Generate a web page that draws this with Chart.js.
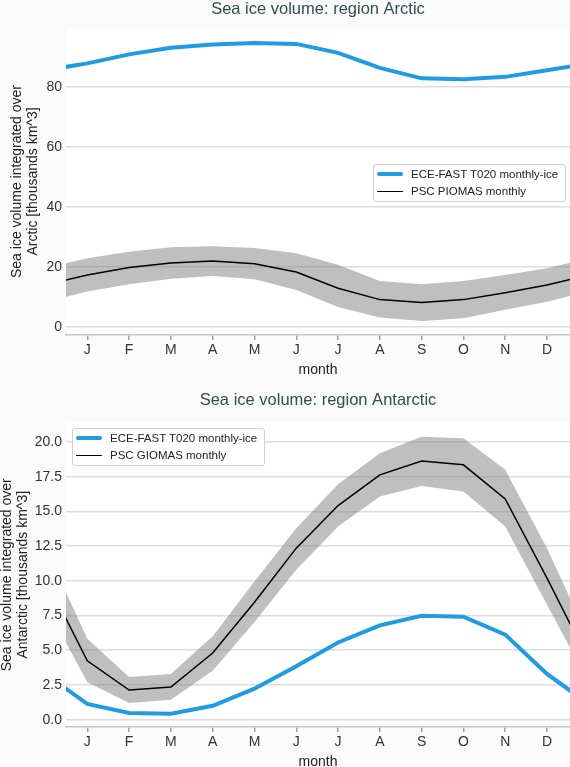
<!DOCTYPE html>
<html>
<head>
<meta charset="utf-8">
<script src="https://cdn.jsdelivr.net/npm/chart.js@4.4.1/dist/chart.umd.min.js"></script>
<style>
body { margin: 0; width: 570px; height: 767px; overflow: hidden; background: #fafafa; font-family: "Liberation Sans", Arial, sans-serif; }
.panel { position: absolute; left: 0; width: 570px; }
.legend { position: absolute; width: 188px; background: rgba(255,255,255,0.85); border: 1px solid #d0d0d0; border-radius: 3px; font-size: 11.5px; color: #222; padding: 0 0 1px 3px; }
.legend div { display: flex; align-items: center; height: 17.5px; }
.legend .sw { display: inline-block; width: 26px; margin-right: 8px; border-radius: 2px; }
</style>
</head>
<body>
<div class="panel" style="top:0;height:385px">
  <canvas id="arctic" width="570" height="385"></canvas>
  <div class="legend" id="legArctic" style="left:373px;top:164px"></div>
</div>
<div class="panel" style="top:385px;height:392px">
  <canvas id="antarctic" width="570" height="392"></canvas>
  <div class="legend" id="legAntarctic" style="left:72px;top:43px"></div>
</div>
<script>
// month labels on the x axis (positions 1..12)
const monthLabels = ['J', 'F', 'M', 'A', 'M', 'J', 'J', 'A', 'S', 'O', 'N', 'D'];

// Arctic, thousands km^3
const arcticModel = [87.9, 90.9, 93.1, 94.2, 94.7, 94.4, 91.4, 86.4, 82.9, 82.6, 83.4, 85.6];
const arcticObs = [17.3, 19.8, 21.3, 22.0, 21.1, 18.3, 12.9, 9.1, 8.1, 9.1, 11.4, 14.0];
const arcticObsHigh = [22.9, 25.1, 26.6, 26.9, 26.3, 24.6, 20.7, 15.3, 14.2, 15.3, 17.3, 19.6];
const arcticObsLow = [11.8, 14.2, 16.1, 17.0, 15.9, 12.3, 6.6, 3.1, 2.0, 2.9, 5.7, 8.4];
const arcticTicks = [0, 20, 40, 60, 80];

// Antarctic, thousands km^3
const antarcticModel = [1.13, 0.48, 0.43, 1.0, 2.23, 3.85, 5.56, 6.79, 7.48, 7.41, 6.12, 3.29];
const antarcticObs = [4.24, 2.13, 2.35, 4.8, 8.46, 12.35, 15.42, 17.63, 18.63, 18.35, 15.9, 10.19];
const antarcticObsHigh = [5.83, 3.07, 3.29, 6.0, 9.95, 13.79, 16.96, 19.18, 20.38, 20.26, 17.99, 12.35];
const antarcticObsLow = [2.69, 1.2, 1.44, 3.53, 7.03, 10.79, 13.91, 16.07, 16.83, 16.43, 13.91, 8.27];
const antarcticTicks = [0, 2.5, 5, 7.5, 10, 12.5, 15, 17.5, 20];

const FONT = '"Liberation Sans", Arial, sans-serif';
const BLUE = '#1f9be1';

// seasonal cycle wraps: Dec before Jan, Jan after Dec
function cycle(arr) {
    let pts = [{ x: 0, y: arr[11] }];
    arr.forEach((v, i) => pts.push({ x: i + 1, y: v }));
    pts.push({ x: 13, y: arr[0] });
    return pts;
}

const plotBg = {
    id: 'plotBg',
    beforeDraw(chart) {
        const { ctx, chartArea: a } = chart;
        ctx.save();
        ctx.fillStyle = '#ffffff';
        ctx.fillRect(a.left, a.top, a.right - a.left, a.bottom - a.top);
        ctx.restore();
    }
};

function buildChart(canvasId, legendId, cfg) {
    const datasets = [
        { label: 'ECE-FAST T020 monthly-ice', data: cycle(cfg.model), borderColor: BLUE, backgroundColor: BLUE, borderWidth: 4, pointRadius: 0, clip: 0 },
        { label: cfg.obsLabel, data: cycle(cfg.obs), borderColor: '#000', backgroundColor: '#000', borderWidth: 1.5, pointRadius: 0, clip: 0 },
        { label: '', data: cycle(cfg.high), borderWidth: 0, pointRadius: 0, fill: '+1', backgroundColor: 'rgba(128,128,128,0.5)', clip: 0 },
        { label: '', data: cycle(cfg.low), borderWidth: 0, pointRadius: 0, fill: false, clip: 0 }
    ];

    const chart = new Chart(document.getElementById(canvasId), {
        type: 'line',
        data: { datasets: datasets },
        plugins: [plotBg],
        options: {
            responsive: false,
            animation: false,
            layout: { padding: 0 },
            plugins: {
                legend: { display: false },
                tooltip: { enabled: false },
                title: {
                    display: true,
                    text: cfg.title,
                    fullSize: false,
                    color: '#2f4f4f',
                    font: { family: FONT, size: 16.5, weight: 'normal', lineHeight: 1.2 },
                    padding: cfg.titlePad
                }
            },
            scales: {
                x: {
                    type: 'linear',
                    min: 0.49,
                    max: 12.55,
                    afterFit: (s) => { s.height = 50; },
                    afterBuildTicks: (s) => { s.ticks = monthLabels.map((m, i) => ({ value: i + 1 })); },
                    ticks: {
                        autoSkip: false,
                        maxRotation: 0,
                        padding: 2,
                        color: '#333',
                        font: { family: FONT, size: 14 },
                        callback: (v) => monthLabels[v - 1]
                    },
                    grid: { drawOnChartArea: false, drawTicks: true, tickLength: 5, color: '#a0a0a0', lineWidth: 1.5 },
                    border: { display: true, color: '#c8c8c8', width: 1.5 },
                    title: { display: true, text: 'month', color: '#222', font: { family: FONT, size: 14 }, padding: { top: 0, bottom: 6 } }
                },
                y: {
                    min: cfg.yMin,
                    max: cfg.yMax,
                    afterFit: (s) => { s.width = 66; },
                    afterBuildTicks: (s) => { s.ticks = cfg.ticks.map((v) => ({ value: v })); },
                    ticks: {
                        padding: 4,
                        color: '#333',
                        font: { family: FONT, size: 14 },
                        callback: cfg.tickFmt
                    },
                    grid: { drawTicks: false, color: '#dcdcdc', lineWidth: 1.5 },
                    border: { display: false },
                    title: {
                        display: true,
                        text: ['Sea ice volume integrated over', cfg.region + ' [thousands km^3]'],
                        color: '#222',
                        font: { family: FONT, size: 14, lineHeight: 1.15 },
                        padding: { top: cfg.yTitlePad, bottom: 0 }
                    }
                }
            }
        }
    });

    // legend box inside the plot, built from the datasets
    let leg = document.getElementById(legendId);
    datasets.filter(d => d.label).forEach(d => {
        let row = document.createElement('div');
        let sw = document.createElement('span');
        sw.className = 'sw';
        sw.style.height = d.borderWidth + 'px';
        sw.style.background = d.borderColor;
        row.appendChild(sw);
        row.appendChild(document.createTextNode(d.label));
        leg.appendChild(row);
    });
    return chart;
}

buildChart('arctic', 'legArctic', {
    title: 'Sea ice volume: region Arctic',
    region: 'Arctic',
    obsLabel: 'PSC PIOMAS monthly',
    model: arcticModel, obs: arcticObs, high: arcticObsHigh, low: arcticObsLow,
    ticks: arcticTicks,
    yMin: -2.7, yMax: 99.7,
    tickFmt: (v) => v,
    yTitlePad: 9,
    titlePad: { top: 0, bottom: 8.2 }
});

buildChart('antarctic', 'legAntarctic', {
    title: 'Sea ice volume: region Antarctic',
    region: 'Antarctic',
    obsLabel: 'PSC GIOMAS monthly',
    model: antarcticModel, obs: antarcticObs, high: antarcticObsHigh, low: antarcticObsLow,
    ticks: antarcticTicks,
    yMin: -0.53, yMax: 21.4,
    tickFmt: (v) => v.toFixed(1),
    yTitlePad: -1,
    titlePad: { top: 6, bottom: 11.7 }
});
</script>
</body>
</html>
